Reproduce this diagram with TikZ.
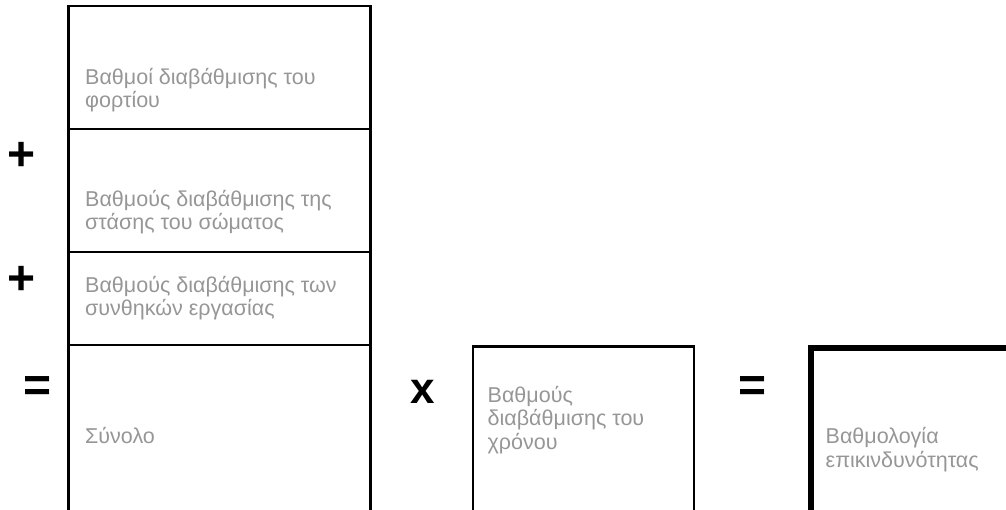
\documentclass[tikz,border=0pt]{standalone}
\usepackage{fontspec}
\setmainfont{Liberation Sans}
\definecolor{labelgray}{RGB}{150,150,150}
\begin{document}
\begin{tikzpicture}[x=1pt,y=-1pt,
  cell/.style={draw=black,line width=2.5pt},
  result/.style={draw=black,line width=6pt},
  label/.style={anchor=base west,inner sep=0pt,align=left,text=labelgray,
    font=\fontsize{21.5}{23.5}\selectfont},
  op/.style={anchor=center,inner sep=0pt,font=\fontsize{48}{48}\selectfont\bfseries}]
\useasboundingbox (0,0) rectangle (1006,510);
\clip (0,0) rectangle (1006,510);

% left column of four stacked cells
\draw[cell] (68.5,6) rectangle (370.5,129);
\draw[cell] (68.5,129) rectangle (370.5,252);
\draw[cell] (68.5,252) rectangle (370.5,345);
\draw[cell] (68.5,345) rectangle (370.5,540);

% time factor and result boxes
\draw[cell] (473,346.5) rectangle (694,540);
\draw[result] (811,348) rectangle (1030,540);

% cell labels, placed by the baseline of their last line
\node[label] (load) at (85,108) {Βαθμοί διαβάθμισης του\\φορτίου};
\node[label] (posture) at (85,230) {Βαθμούς διαβάθμισης της\\στάσης του σώματος};
\node[label] (cond) at (85,316) {Βαθμούς διαβάθμισης των\\συνθηκών εργασίας};
\node[label] (sum) at (85,443) {Σύνολο};
\node[label] (time) at (487.5,449) {Βαθμούς\\διαβάθμισης του\\χρόνου};
\node[label] (risk) at (825.5,467) {Βαθμολογία\\επικινδυνότητας};

% operators
\node[op] (plusA) at (21.3,156.7) {+};
\node[op] (plusB) at (21.3,280.5) {+};
\node[op] (eqA) at (37.7,389.5) {=};
\node[op,font=\fontsize{44}{44}\selectfont\bfseries] (times) at (423,392) {x};
\node[op] (eqB) at (753,389) {=};
\end{tikzpicture}
\end{document}
